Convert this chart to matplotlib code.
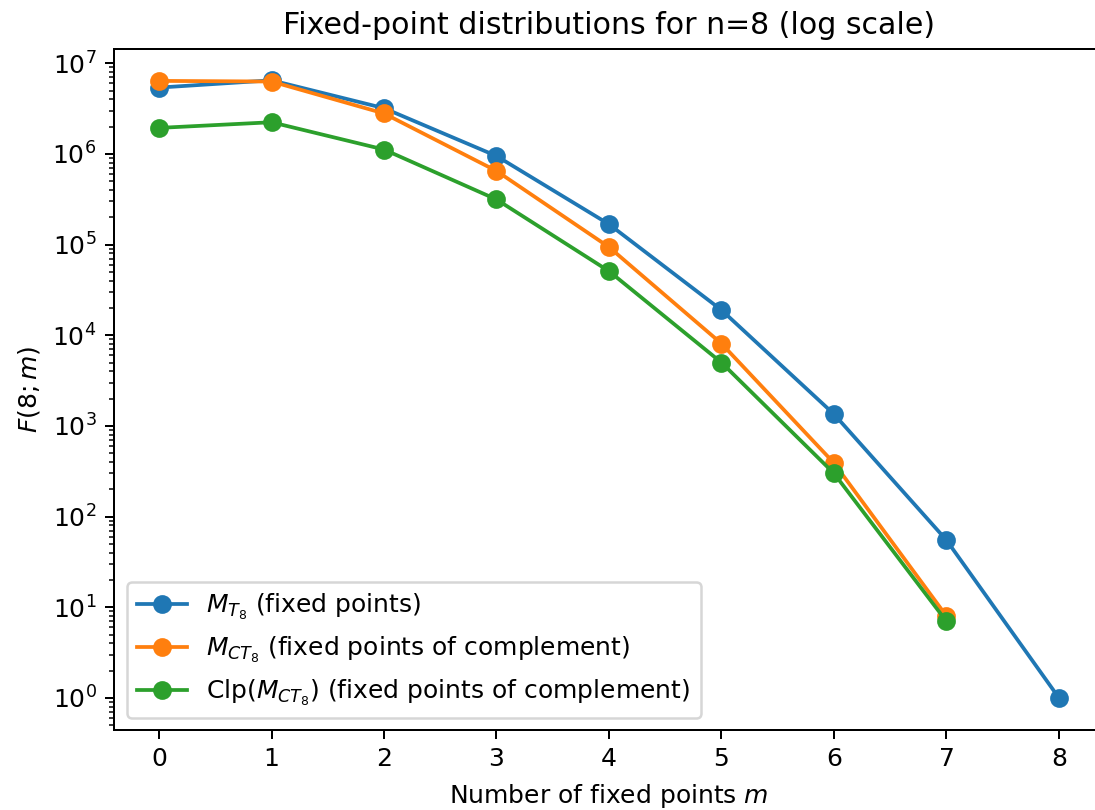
import numpy as np
import matplotlib.pyplot as plt

# fixed-point counts
m_full = np.arange(0, 9)
m_comp = np.arange(0, 8)
fix_T8 = [5.4e6, 6.5e6, 3.2e6, 9.5e5, 1.68e5, 1.9e4, 1.35e3, 55, 1]
fix_CT8 = [6.4e6, 6.3e6, 2.8e6, 6.5e5, 9.4e4, 8.1e3, 390, 8]
fix_clp = [1.94e6, 2.24e6, 1.12e6, 3.15e5, 5.1e4, 5.0e3, 300, 7]

DPI = 180
W, H = 1095, 810
fig = plt.figure(figsize=(W / DPI, H / DPI), dpi=DPI)
ax = fig.add_axes([114 / W, (H - 730) / H, (1104 - 114) / W, (730 - 49) / H])

ax.plot(m_full, fix_T8, marker='o', markersize=6.5, linewidth=1.5,
        label=r'$M_{T_8}$ (fixed points)')
ax.plot(m_comp, fix_CT8, marker='o', markersize=6.5, linewidth=1.5,
        label=r'$M_{CT_8}$ (fixed points of complement)')
ax.plot(m_comp, fix_clp, marker='o', markersize=6.5, linewidth=1.5,
        label=r'Clp($M_{CT_8}$) (fixed points of complement)')

ax.set_yscale('log')
ax.set_xlim(-0.4, 8.4)
ax.set_ylim(10 ** -0.353, 10 ** 7.158)
ax.set_xticks(m_full)
ax.set_xlabel('Number of fixed points $m$')
ax.set_ylabel('$F(8;m)$')
ax.set_title('Fixed-point distributions for n=8 (log scale)')
ax.legend(loc='lower left')

fig.savefig('out.png', dpi=DPI)
